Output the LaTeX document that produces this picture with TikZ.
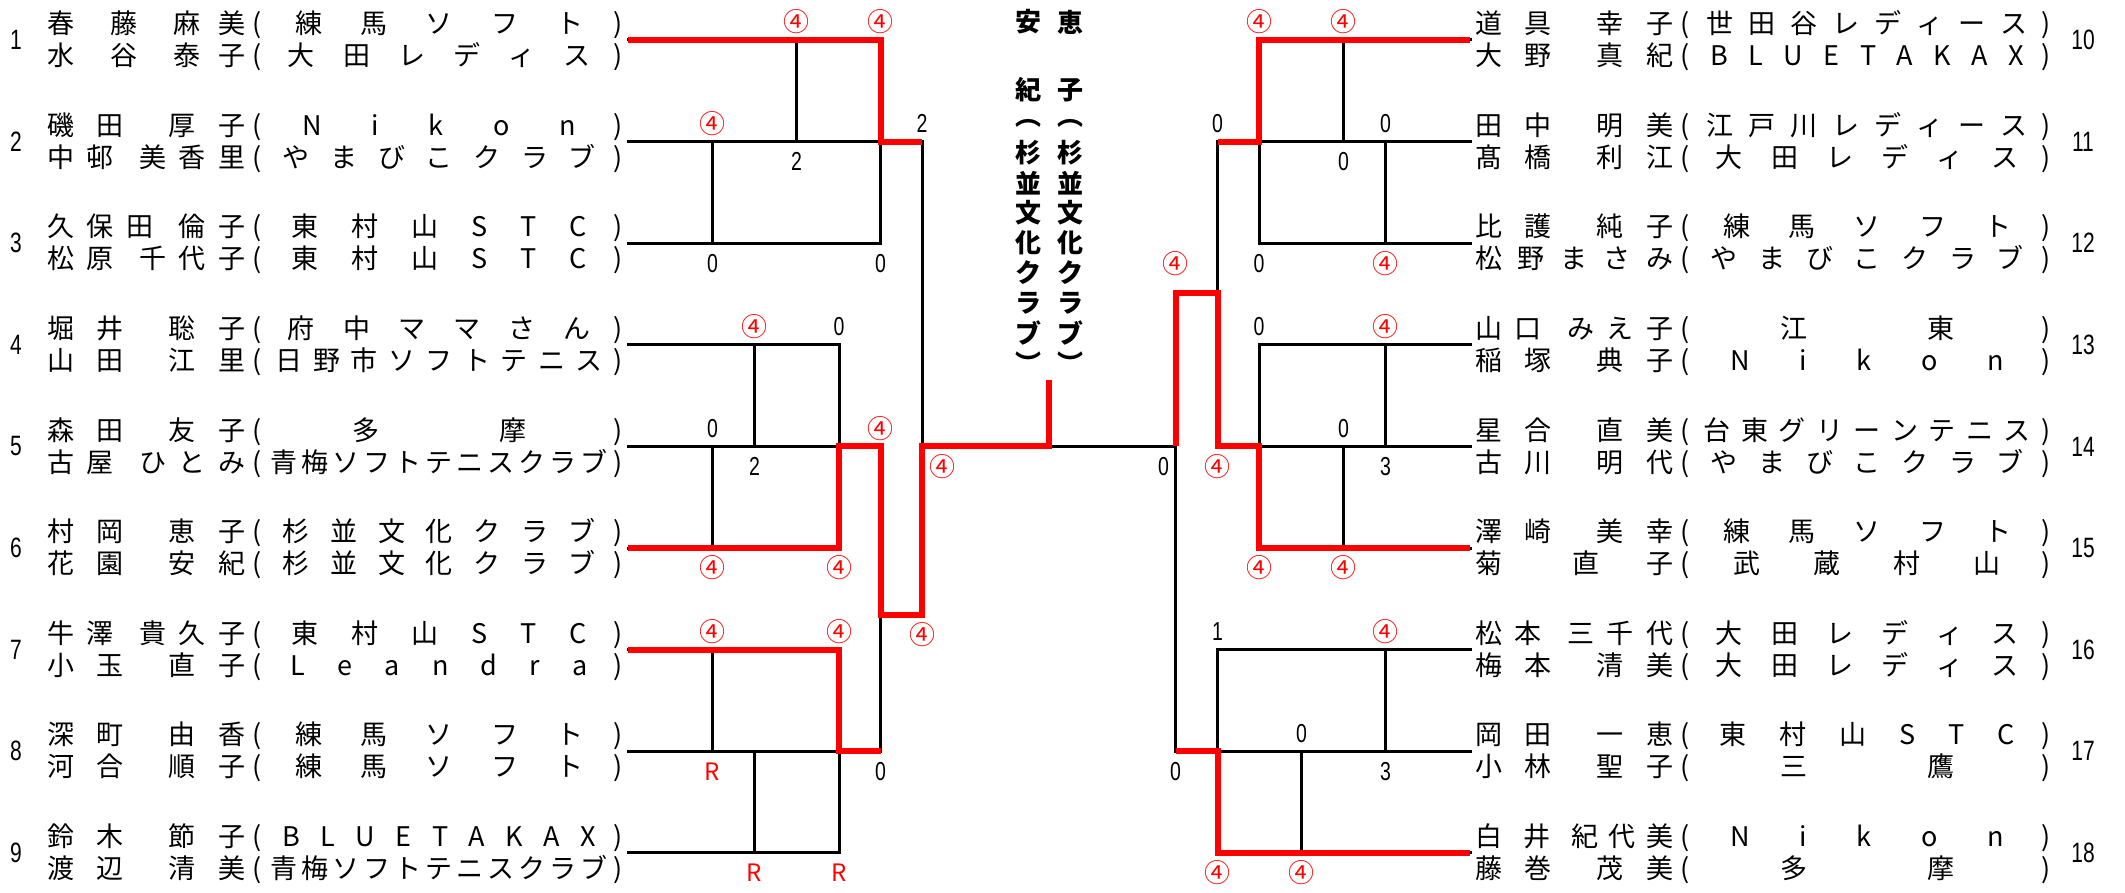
\documentclass[tikz,border=0pt]{standalone}
\usepackage{fontspec}
\setmainfont{Noto Sans CJK JP}
\newfontfamily\narrowfont[FakeStretch=0.75]{Liberation Sans}

% spread the letters of a field over its box, * adds one more gap
\newcommand\sprA[1]{#1\sprB}
\newcommand\sprB[1]{\ifx\relax#1\else\ifx*#1\hfill\else\hfill#1\fi\expandafter\sprB\fi}
\newcommand\prow[2]{%
  \makebox[198pt][s]{\sprA#1\relax}%
  \makebox[23pt]{(}%
  \makebox[342pt][s]{\hspace{0pt plus .7fill}\sprA#2\relax\hspace{0pt plus .7fill}}%
  \makebox[16pt]{)}}

\begin{document}
\begin{tikzpicture}[x=1pt, y=-1pt,
    entry/.style={anchor=west, align=left, inner sep=0pt, font=\fontsize{27}{32}\selectfont},
    num/.style={inner sep=0pt, font=\narrowfont\fontsize{28}{28}\selectfont},
    ln/.style={line width=3pt, line cap=rect},
    win/.style={red, line width=6pt, line join=miter},
    fw/.style={red, inner sep=0pt, font=\fontsize{26}{26}\selectfont},
    sc/.style={inner sep=0pt, font=\narrowfont\fontsize{26}{26}\selectfont},
    rr/.style={red, inner sep=0pt, font=\fontsize{24}{24}\selectfont},
    hi/.style={yshift=18pt}, lo/.style={yshift=-20pt},
    champ/.style={inner sep=0pt, font=\bfseries\fontsize{26}{26}\selectfont}]
  \useasboundingbox (0,0) rectangle (2125,893);

  % players, left
  \node[entry] (e1) at (47,41) {\prow{春*藤*麻美}{練馬ソフト}\\\prow{水*谷*泰子}{大田レディス}};
  \node[entry] (e2) at (47,142.6) {\prow{磯田*厚子}{Nikon}\\\prow{中邨*美香里}{やまびこクラブ}};
  \node[entry] (e3) at (47,244.2) {\prow{久保田*倫子}{東村山STC}\\\prow{松原*千代子}{東村山STC}};
  \node[entry] (e4) at (47,345.8) {\prow{堀井*聡子}{府中ママさん}\\\prow{山田*江里}{日野市ソフトテニス}};
  \node[entry] (e5) at (47,447.4) {\prow{森田*友子}{多摩}\\\prow{古屋*ひとみ}{青梅ソフトテニスクラブ}};
  \node[entry] (e6) at (47,549) {\prow{村岡*恵子}{杉並文化クラブ}\\\prow{花園*安紀}{杉並文化クラブ}};
  \node[entry] (e7) at (47,650.6) {\prow{牛澤*貴久子}{東村山STC}\\\prow{小玉*直子}{Leandra}};
  \node[entry] (e8) at (47,752.2) {\prow{深町*由香}{練馬ソフト}\\\prow{河合*順子}{練馬ソフト}};
  \node[entry] (e9) at (47,853.8) {\prow{鈴木*節子}{BLUE TAKAX}\\\prow{渡辺*清美}{青梅ソフトテニスクラブ}};

  % players, right
  \node[entry] (e10) at (1475,41) {\prow{道具*幸子}{世田谷レディース}\\\prow{大野*真紀}{BLUE TAKAX}};
  \node[entry] (e11) at (1475,142.6) {\prow{田中*明美}{江戸川レディース}\\\prow{髙橋*利江}{大田レディス}};
  \node[entry] (e12) at (1475,244.2) {\prow{比護*純子}{練馬ソフト}\\\prow{松野まさみ}{やまびこクラブ}};
  \node[entry] (e13) at (1475,345.8) {\prow{山口*みえ子}{江東}\\\prow{稲塚*典子}{Nikon}};
  \node[entry] (e14) at (1475,447.4) {\prow{星合*直美}{台東グリーンテニス}\\\prow{古川*明代}{やまびこクラブ}};
  \node[entry] (e15) at (1475,549) {\prow{澤崎*美幸}{練馬ソフト}\\\prow{菊**直*子}{武蔵村山}};
  \node[entry] (e16) at (1475,650.6) {\prow{松本*三千代}{大田レディス}\\\prow{梅本*清美}{大田レディス}};
  \node[entry] (e17) at (1475,752.2) {\prow{岡田*一恵}{東村山STC}\\\prow{小林*聖子}{三鷹}};
  \node[entry] (e18) at (1475,853.8) {\prow{白*井*紀代美}{Nikon}\\\prow{藤巻*茂美}{多摩}};

  % numbers and line ends
  \foreach \y [count=\i] in {40,141.6,243.2,344.8,446.4,548,649.6,751.2,852.8} {
    \node[num] (n\i) at (16,\y) {\i};
    \coordinate (a\i) at (628,\y);
  }
  \foreach \y [count=\i from 10] in {40,141.6,243.2,344.8,446.4,548,649.6,751.2,852.8} {
    \node[num] (n\i) at (2083,\y) {\i};
    \coordinate (b\i) at (1470,\y);
  }

  % bracket columns
  \coordinate (v1) at (712.5,0);  \coordinate (w1) at (1385.5,0);
  \coordinate (v2) at (754.5,0);  \coordinate (w2) at (1343.5,0);
  \coordinate (v3) at (796.5,0);  \coordinate (w3) at (1301.5,0);
  \coordinate (v4) at (839,0);    \coordinate (w4) at (1259,0);
  \coordinate (v5) at (880.5,0);  \coordinate (w5) at (1217.5,0);
  \coordinate (v6) at (922,0);    \coordinate (w6) at (1175.5,0);
  \coordinate (vc) at (1049,0);
  \coordinate (kL) at (0,615);    \coordinate (kR) at (0,293);
  \coordinate (top) at (1049,380);

  % black lines
  \foreach \i in {1,2,3} \draw[ln] (a\i) -- (a\i -| v5);
  \foreach \i in {4,...,9} \draw[ln] (a\i) -- (a\i -| v4);
  \foreach \i in {10,...,15} \draw[ln] (b\i) -- (b\i -| w4);
  \foreach \i in {16,17,18} \draw[ln] (b\i) -- (b\i -| w5);
  \draw[ln] (a1 -| v3) -- (a2 -| v3);
  \draw[ln] (a2 -| v1) -- (a3 -| v1);
  \draw[ln] (a1 -| v5) -- (a3 -| v5);
  \draw[ln] (a4 -| v2) -- (a5 -| v2);
  \draw[ln] (a5 -| v1) -- (a6 -| v1);
  \draw[ln] (a4 -| v4) -- (a6 -| v4);
  \draw[ln] (a7 -| v1) -- (a8 -| v1);
  \draw[ln] (a8 -| v2) -- (a9 -| v2);
  \draw[ln] (a7 -| v4) -- (a9 -| v4);
  \draw[ln] (a5 -| v5) -- (a8 -| v5);
  \draw[ln] (a2 -| v6) -- (kL -| v6);
  \draw[ln] (a5 -| v6) -- (a5 -| w6);
  \draw[ln] (b10 -| w2) -- (b11 -| w2);
  \draw[ln] (b11 -| w1) -- (b12 -| w1);
  \draw[ln] (b10 -| w4) -- (b12 -| w4);
  \draw[ln] (b13 -| w1) -- (b14 -| w1);
  \draw[ln] (b14 -| w2) -- (b15 -| w2);
  \draw[ln] (b13 -| w4) -- (b15 -| w4);
  \draw[ln] (b16 -| w1) -- (b17 -| w1);
  \draw[ln] (b17 -| w3) -- (b18 -| w3);
  \draw[ln] (b16 -| w5) -- (b18 -| w5);
  \draw[ln] (b11 -| w5) -- (b14 -| w5);
  \draw[ln] (kR -| w6) -- (b17 -| w6);

  % winners
  \draw[win] (a1) -| (a2 -| v5) -- (a2 -| v6);
  \draw[win] (a6) -| (a5 -| v4) -- (a5 -| v5) |- (kL -| v6) -- (a5 -| v6) -- (a5 -| vc) -- (top);
  \draw[win] (a7) -| (a8 -| v4) -- (a8 -| v5);
  \draw[win] (b10) -| (b11 -| w4) -- (b11 -| w5);
  \draw[win] (b15) -| (b14 -| w4) -- (b14 -| w5) |- (kR -| w6) -- (b14 -| w6);
  \draw[win] (b18) -| (b17 -| w5) -- (b17 -| w6);

  % scores
  \foreach \c/\e/\d [count=\k] in {v3/a1/hi,v5/a1/hi,v1/a2/hi,v2/a4/hi,v5/a5/hi,v1/a6/lo,v4/a6/lo,
      v1/a7/hi,v4/a7/hi,v6/kL/lo,w4/b10/hi,w2/b10/hi,w1/b12/lo,w6/b12/lo,w1/b13/hi,w5/b14/lo,
      w4/b15/lo,w2/b15/lo,w1/b16/hi,w5/b18/lo,w3/b18/lo}
    \node[fw,\d] (f\k) at (\e -| \c) {④};
  \node[fw,lo,xshift=20pt] (fin) at (a5 -| v6) {④};
  \foreach \c/\e/\d/\t [count=\k] in {v3/a2/lo/2,v1/a3/lo/0,v5/a3/lo/0,v6/a2/hi/2,v4/a4/hi/0,
      v1/a5/hi/0,v2/a5/lo/2,v5/a8/lo/0,w5/b11/hi/0,w1/b11/hi/0,w2/b11/lo/0,w4/b12/lo/0,
      w4/b13/hi/0,w2/b14/hi/0,w1/b14/lo/3,w5/b16/hi/1,w3/b17/hi/0,w1/b17/lo/3,w6/b17/lo/0}
    \node[sc,\d] (s\k) at (\e -| \c) {\t};
  \node[sc,lo,xshift=-12pt] (sfin) at (b14 -| w6) {0};
  \foreach \c/\e [count=\k] in {v1/a8,v2/a9,v4/a9}
    \node[rr,lo] (r\k) at (\e -| \c) {R};

  % champions
  \node[champ] (nl1) at (1028,22) {安};
  \node[champ] (nl2) at (1028,90) {紀};
  \node[champ] (nr1) at (1070,22) {恵};
  \node[champ] (nr2) at (1070,90) {子};
  \foreach \c/\y [count=\k] in {︵/123,杉/153,並/183,文/213,化/243,ク/273,ラ/303,ブ/333,︶/363} {
    \node[champ] (tl\k) at (1028,\y) {\c};
    \node[champ] (tr\k) at (1070,\y) {\c};
  }
\end{tikzpicture}
\end{document}
